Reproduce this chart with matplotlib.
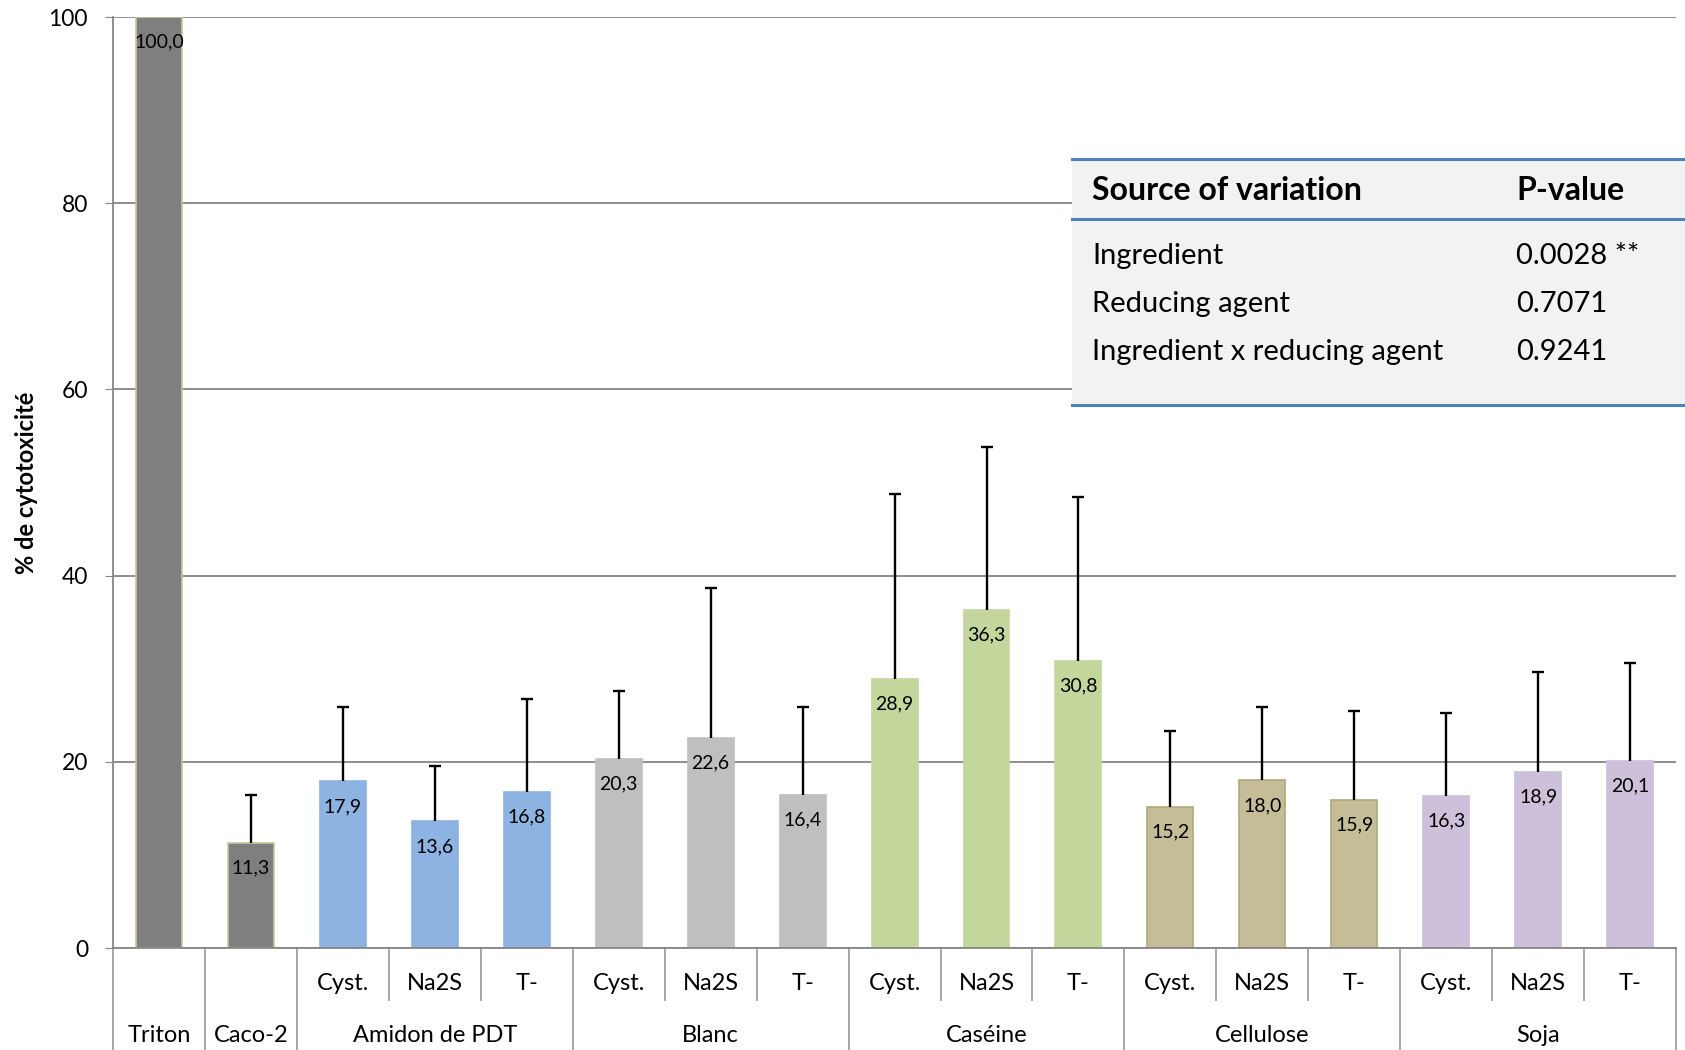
import numpy as np
import matplotlib.pyplot as plt
from matplotlib.transforms import blended_transform_factory

plt.rcParams['font.family'] = ['Lato', 'DejaVu Sans']

# mean cytotoxicity (%) and upper error (top of error bar) per condition
groups = ["Triton", "Caco-2", "Amidon de PDT", "Blanc", "Caséine", "Cellulose", "Soja"]
group_sizes = [1, 1, 3, 3, 3, 3, 3]
sub_labels = ["", "", "Cyst.", "Na2S", "T-", "Cyst.", "Na2S", "T-", "Cyst.", "Na2S", "T-",
              "Cyst.", "Na2S", "T-", "Cyst.", "Na2S", "T-"]
values = [100.0, 11.3, 17.9, 13.6, 16.8, 20.3, 22.6, 16.4, 28.9, 36.3, 30.8,
          15.2, 18.0, 15.9, 16.3, 18.9, 20.1]
err_top = [100.0, 16.4, 25.9, 19.6, 26.7, 27.6, 38.7, 25.9, 48.8, 53.8, 48.4,
           23.3, 25.9, 25.5, 25.2, 29.6, 30.6]

group_colors = ["#7f7f7f", "#7f7f7f", "#8db3e2", "#bfbfbf", "#c3d69b", "#c4bd97", "#ccc0da"]
group_edges = ["#c9c79c", "#c9c79c", "#8db3e2", "#bfbfbf", "#c3d69b", "#aeaa7c", "#ccc0da"]

# ANOVA summary
table_rows = ["Ingredient", "Reducing agent", "Ingredient x reducing agent"]
table_pvals = ["0.0028 **", "0.7071", "0.9241"]

colors, edges = [], []
for c, e, n in zip(group_colors, group_edges, group_sizes):
    colors += [c] * n
    edges += [e] * n

fig = plt.figure(figsize=(16.85, 10.5), dpi=100)
ax = fig.add_axes([0.0671, 0.0971, 0.9276, 0.8867])

x = np.arange(len(values))
ax.bar(x, values, width=0.5, color=colors, edgecolor=edges, linewidth=1.2, zorder=2)

# upper error bars only (no cap at the bar top)
vals = np.array(values)
tops = np.array(err_top)
mask = tops > vals
ax.vlines(x[mask], vals[mask], tops[mask], color='black', linewidth=1.7, zorder=3)
ax.plot(x[mask], tops[mask], linestyle='none', marker='_', markersize=8.5,
        markeredgewidth=1.7, color='black', zorder=3)

for xi, v in zip(x, values):
    ax.annotate(f"{v:.1f}".replace(".", ","), (xi, v), xytext=(0, -25),
                textcoords='offset pixels', ha='center', va='center', fontsize=14, zorder=4)

ax.set_xlim(-0.5, len(values) - 0.5)
ax.set_ylim(0, 100)
ax.set_yticks([0, 20, 40, 60, 80, 100])
ax.tick_params(axis='y', labelsize=16.5, length=6, color='#868686', pad=12)
ax.set_xticks([])
ax.grid(axis='y', color='#868686', linewidth=1.3, zorder=0)
for side in ['top', 'right']:
    ax.spines[side].set_visible(False)
for side in ['left', 'bottom']:
    ax.spines[side].set_color('#868686')
    ax.spines[side].set_linewidth(1.3)
ax.set_ylabel("% de cytotoxicité", fontsize=17, fontweight='bold')
ax.yaxis.set_label_coords(-0.048, 0.5)

# two-level category axis
trans = blended_transform_factory(ax.transData, ax.transAxes)
px = 1.0 / (0.8867 * 1050)
group_edges_pos = np.cumsum([0] + group_sizes)
for k in range(len(values) + 1):
    bottom = -110 * px if k in group_edges_pos else -52 * px
    ax.plot([k - 0.5, k - 0.5], [0, bottom], transform=trans, color='#a0a0a0',
            linewidth=1.3, clip_on=False)
for xi, lab in zip(x, sub_labels):
    if lab:
        ax.text(xi, -35 * px, lab, transform=trans, ha='center', va='center', fontsize=17)
for g, start, n in zip(groups, group_edges_pos[:-1], group_sizes):
    ax.text(start + (n - 1) / 2, -87 * px, g, transform=trans, ha='center', va='center',
            fontsize=17)

# p-value table in the upper right
tx0, tx1 = 1072 / 1685, 1.0
ty_top, ty_head, ty_bot = 1 - 159 / 1050, 1 - 219 / 1050, 1 - 405 / 1050
fig.patches.append(plt.Rectangle((tx0, ty_bot), tx1 - tx0, ty_top - ty_bot,
                                 transform=fig.transFigure, facecolor='#f2f2f2',
                                 edgecolor='none', zorder=5))
for yy in [ty_top, ty_head, ty_bot]:
    fig.add_artist(plt.Line2D([tx0, tx1], [yy, yy], transform=fig.transFigure,
                              color='#4f81bd', linewidth=2.2, zorder=6))
col1, col2 = 1092 / 1685, 1516 / 1685
fig.text(col1, 1 - 190 / 1050, "Source of variation", fontsize=23, fontweight='bold',
         va='center', zorder=7)
fig.text(col2, 1 - 190 / 1050, "P-value", fontsize=23, fontweight='bold', va='center', zorder=7)
for i, (r, p) in enumerate(zip(table_rows, table_pvals)):
    yy = 1 - (256 + 48 * i) / 1050
    fig.text(col1, yy, r, fontsize=21, va='center', zorder=7)
    fig.text(col2, yy, p, fontsize=21, va='center', zorder=7)

fig.savefig("out.png", dpi=100)
